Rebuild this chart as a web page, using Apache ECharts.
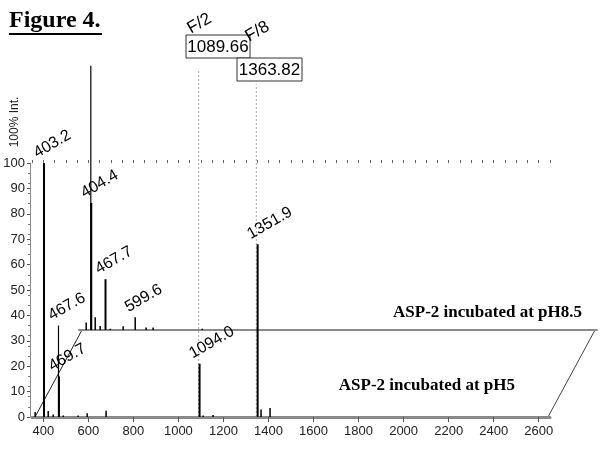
<!DOCTYPE html>
<html>
<head>
<meta charset="utf-8">
<script src="https://cdn.jsdelivr.net/npm/echarts@6/dist/echarts.min.js"></script>
<style>
html, body { margin: 0; background: #fff; }
#main { width: 600px; height: 449px; }
</style>
</head>
<body>
<div id="main"></div>
<script>
// pH5 spectrum (front trace): m/z and % intensity
var frontMz  = [364, 403.2, 422, 444, 467.6, 469.7, 489, 555, 595, 679, 1094.0, 1110, 1154, 1351.9, 1367, 1407];
var frontInt = [2,   100,   2.4, 1,   36,    16,    0.6, 0.6, 1.5, 2.5, 21,     0.6,  0.8,  68,     3,    3.5];
var frontLabelled = [403.2, 467.6, 469.7, 1094.0, 1351.9];

// pH8.5 spectrum (back trace)
var backMz  = [382, 402.5, 404.4, 422, 444, 467.7, 489, 546, 599.6, 648, 679, 897];
var backInt = [3,   104,   50,    5,   1.6, 20,    0.5, 1.5, 5,     1,   1,   0.5];
var backLabelled = [404.4, 467.7, 599.6];

// dotted guides with theoretical masses
var guideMz   = [1090, 1346];
var guideTop  = [137, 131];
var guideMass = ['1089.66', '1363.82'];
var guideTag  = ['F/2', 'F/8'];

var xTicks = [400, 600, 800, 1000, 1200, 1400, 1600, 1800, 2000, 2200, 2400, 2600];
var yTicks = [0, 10, 20, 30, 40, 50, 60, 70, 80, 90, 100];

var minorX = [];
for (var v = 350; v <= 2650; v += 50) minorX.push(v);

var FRONT = { left: 32, top: 163, width: 518, height: 254 };
var BACK  = { left: 79, top: 76,  width: 518, height: 254 };

var dom = document.getElementById('main');
var myChart = echarts.init(dom);

function peakRender(labelled) {
    return function (params, api) {
        var mz = api.value(0), h = api.value(1);
        var base = api.coord([mz, 0]);
        var top = api.coord([mz, h]);
        var isLab = labelled.indexOf(mz) >= 0;
        var thin = h > 101 || mz === 467.6;
        var kids = [{
            type: 'line',
            shape: { x1: base[0], y1: base[1], x2: top[0], y2: top[1] },
            style: { stroke: '#000', lineWidth: thin ? 1.2 : (h > 5 ? 2 : 1.5) }
        }];
        if (isLab) {
            kids.push({
                type: 'text',
                x: top[0] - 5,
                y: top[1] - 2,
                rotation: 30 * Math.PI / 180,
                style: {
                    text: mz.toFixed(1),
                    font: '16px "Liberation Sans", Arial, sans-serif',
                    fill: '#000',
                    textAlign: 'left',
                    textVerticalAlign: 'bottom'
                }
            });
        }
        return { type: 'group', children: kids };
    };
}

var option = {
    animation: false,
    backgroundColor: '#fff',
    grid: [
        { left: FRONT.left, top: FRONT.top, width: FRONT.width, height: FRONT.height },
        { left: BACK.left, top: BACK.top, width: BACK.width, height: BACK.height }
    ],
    xAxis: [
        {
            gridIndex: 0, type: 'value', min: 350, max: 2650,
            axisLine: { lineStyle: { color: '#8a8a8a', width: 3 } },
            axisTick: { customValues: xTicks, length: 5, lineStyle: { color: '#555' } },
            axisLabel: { customValues: xTicks, margin: 8, fontSize: 13, color: '#222',
                fontFamily: '"Liberation Sans", Arial, sans-serif',
                formatter: function (val) { return String(val); } },
            splitLine: { show: false }
        },
        {
            gridIndex: 0, type: 'value', min: 350, max: 2650,
            axisLine: { show: false },
            axisTick: { customValues: minorX, length: 3, lineStyle: { color: '#666' } },
            axisLabel: { show: false },
            splitLine: { show: false }
        },
        {
            gridIndex: 1, type: 'value', min: 350, max: 2650,
            axisLine: { lineStyle: { color: '#8a8a8a', width: 2 } },
            axisTick: { show: false },
            axisLabel: { show: false },
            splitLine: { show: false }
        }
    ],
    yAxis: [
        {
            gridIndex: 0, type: 'value', min: 0, max: 100, offset: 2,
            axisLine: { show: true, lineStyle: { color: '#8a8a8a', width: 1 } },
            axisTick: { customValues: yTicks, length: 3, lineStyle: { color: '#555' } },
            minorTick: { show: true, splitNumber: 5, length: 2, lineStyle: { color: '#777' } },
            axisLabel: { customValues: yTicks, margin: 5, fontSize: 13, color: '#222',
                fontFamily: '"Liberation Sans", Arial, sans-serif' },
            splitLine: { show: false }
        },
        { gridIndex: 1, type: 'value', min: 0, max: 100, show: false }
    ],
    series: [
        {
            type: 'custom', name: 'guides', xAxisIndex: 0, yAxisIndex: 0, z: 1,
            data: guideMz.map(function (m, i) { return [m, guideTop[i]]; }),
            renderItem: function (params, api) {
                var base = api.coord([api.value(0), 0]);
                var top = api.coord([api.value(0), api.value(1)]);
                return {
                    type: 'line',
                    shape: { x1: base[0], y1: base[1], x2: top[0], y2: top[1] },
                    style: { stroke: '#aaa', lineWidth: 1, lineDash: [2, 2] }
                };
            }
        },
        {
            type: 'custom', name: 'pH8.5', xAxisIndex: 2, yAxisIndex: 1, z: 2,
            data: backMz.map(function (m, i) { return [m, backInt[i]]; }),
            renderItem: peakRender(backLabelled)
        },
        {
            type: 'custom', name: 'pH5', xAxisIndex: 0, yAxisIndex: 0, z: 3,
            data: frontMz.map(function (m, i) { return [m, frontInt[i]]; }),
            renderItem: peakRender(frontLabelled)
        }
    ],
    graphic: [
        { type: 'text', left: 9, top: 9,
          style: { text: 'Figure 4.', font: 'bold 24px "Liberation Serif", "Times New Roman", serif', fill: '#000' } },
        { type: 'line', shape: { x1: 9, y1: 34, x2: 102, y2: 34 }, style: { stroke: '#000', lineWidth: 2 } },
        { type: 'text', x: 15, y: 122, rotation: Math.PI / 2,
          style: { text: '100% Int.', font: '12px "Liberation Sans", Arial, sans-serif', fill: '#222',
                   textAlign: 'center', textVerticalAlign: 'middle' } },
        // perspective frame joining the two traces
        { type: 'line', shape: { x1: FRONT.left + 3, y1: FRONT.top + FRONT.height, x2: BACK.left + 3, y2: BACK.top + BACK.height },
          style: { stroke: '#222', lineWidth: 1 } },
        { type: 'line', shape: { x1: FRONT.left + FRONT.width - 2, y1: FRONT.top + FRONT.height, x2: BACK.left + BACK.width - 2, y2: BACK.top + BACK.height },
          style: { stroke: '#444', lineWidth: 1 } },
        // guide annotations
        { type: 'rect', shape: { x: 186, y: 35, width: 64, height: 23 }, style: { fill: '#fff', stroke: '#333', lineWidth: 1 } },
        { type: 'text', x: 218, y: 47, style: { text: guideMass[0], font: '17px "Liberation Sans", Arial, sans-serif', fill: '#000', textAlign: 'center', textVerticalAlign: 'middle' } },
        { type: 'rect', shape: { x: 237, y: 58, width: 65, height: 23 }, style: { fill: '#fff', stroke: '#333', lineWidth: 1 } },
        { type: 'text', x: 269.5, y: 70, style: { text: guideMass[1], font: '17px "Liberation Sans", Arial, sans-serif', fill: '#000', textAlign: 'center', textVerticalAlign: 'middle' } },
        { type: 'text', x: 193, y: 37, rotation: 30 * Math.PI / 180,
          style: { text: guideTag[0], font: '17px "Liberation Sans", Arial, sans-serif', fill: '#000', textAlign: 'left', textVerticalAlign: 'bottom' } },
        { type: 'text', x: 251, y: 45, rotation: 30 * Math.PI / 180,
          style: { text: guideTag[1], font: '17px "Liberation Sans", Arial, sans-serif', fill: '#000', textAlign: 'left', textVerticalAlign: 'bottom' } },
        // trace names
        { type: 'text', x: 582, y: 313,
          style: { text: 'ASP-2 incubated at pH8.5', font: 'bold 17px "Liberation Serif", "Times New Roman", serif', fill: '#000', textAlign: 'right', textVerticalAlign: 'middle' } },
        { type: 'text', x: 515, y: 386,
          style: { text: 'ASP-2 incubated at pH5', font: 'bold 17px "Liberation Serif", "Times New Roman", serif', fill: '#000', textAlign: 'right', textVerticalAlign: 'middle' } }
    ]
};

myChart.setOption(option);
</script>
</body>
</html>
